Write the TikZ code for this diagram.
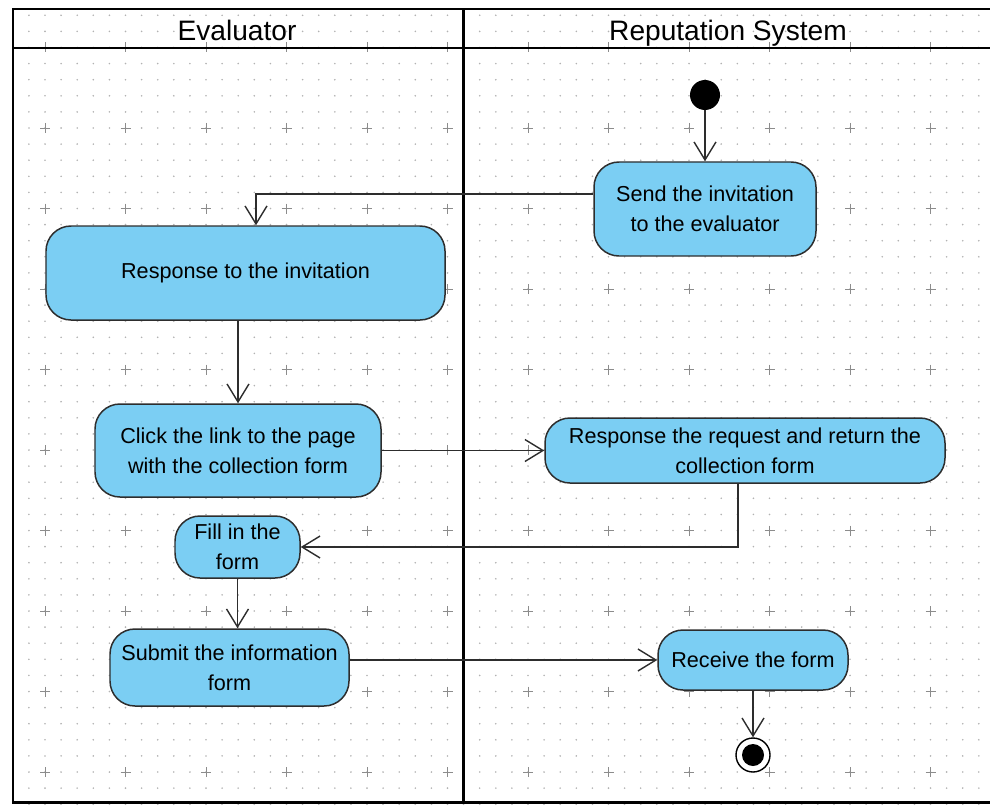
\documentclass[tikz,border=0pt]{standalone}
\usepackage{fontspec}
\setmainfont{Liberation Sans}
\usetikzlibrary{arrows.meta}
\definecolor{actfill}{RGB}{123,206,243}
\definecolor{actline}{RGB}{45,45,45}
\tikzset{action/.style={
    % The shape:
    rectangle,rounded corners=5mm,
    % The size:
    inner sep=0pt,
    % The border:
    line width=0.85pt,
    draw=actline,
    % The filling:
    fill=actfill,
    % Font
    align=center,
    font=\fontsize{12.3}{17}\selectfont
    },
    flow/.style={
    line width=0.8pt,
    draw=actline,
    -{Straight Barb[length=3.6mm,width=4.4mm,line width=0.8pt]},
    },
    lane/.style={
    line width=1.7pt,
    },
    lanetitle/.style={
    anchor=base,
    font=\fontsize{16}{18}\selectfont,
    },
}

\begin{document}
\begin{tikzpicture}[x=0.2mm,y=-0.2mm]
    \useasboundingbox (0,0) rectangle (990,805);
    % grid
    \foreach \i in {0,...,60}
      \foreach \j in {0,...,49}
        \fill[black!30] (28.9+16.1*\i,15.3+16.1*\j) circle (0.9);
    \foreach \i in {0,...,12}
      \foreach \j in {0,...,9}
        \draw[black!45,line width=0.5pt] (45+80.5*\i,47.5+80.5*\j) +(-5,0) -- +(5,0) +(0,-5) -- +(0,5);

    % swimlanes
    \draw[lane] (1000,9) -- (13,9) -- (13,802) -- (1000,802);
    \draw[lane] (13,48) -- (1000,48);
    \draw[lane] (463,9) -- (463,802);
    \node (evaluator) [lanetitle] at (237,40.5) {Evaluator};
    \node (repsystem) [lanetitle] at (728,40.5) {Reputation System};

    % actions
    \node (start)   [circle,fill=black,minimum size=6mm,inner sep=0pt] at (705,95) {};
    \node (send)    [action,minimum width=44.4mm,minimum height=18.8mm] at (705,209) {Send the invitation\\to the evaluator};
    \node (respond) [action,minimum width=79.8mm,minimum height=18.8mm] at (245.5,273) {Response to the invitation};
    \node (click)   [action,minimum width=57.2mm,minimum height=18.6mm] at (238,450.5) {Click the link to the page\\with the collection form};
    \node (reply)   [action,minimum width=80mm,minimum height=13mm] at (745,450.5) {Response the request and return the\\collection form};
    \node (fill)    [action,minimum width=25mm,minimum height=12.4mm] at (237.5,547) {Fill in the\\form};
    \node (submit)  [action,minimum width=47.8mm,minimum height=15.4mm] at (229.5,667.5) {Submit the information\\form};
    \node (receive) [action,minimum width=38mm,minimum height=12mm] at (753,660) {Receive the form};
    \node (end)     [circle,draw=black,line width=0.8pt,fill=white,minimum size=6.8mm,inner sep=0pt] at (753,755) {};
    \fill (end) circle (11);

    % flows
    \draw[flow] (start) -- (send);
    \draw[flow] ([yshift=3mm]send.west) -| ([xshift=2.1mm]respond.north);
    \draw[flow] (respond.south -| click.north) -- (click.north);
    \draw[flow] (click.east) -- (reply.west);
    \draw[flow] ([xshift=-1.4mm]reply.south) |- (fill.east);
    \draw[flow] (fill.south) -- (fill.south |- submit.north);
    \draw[flow] (submit.east |- receive.west) -- (receive.west);
    \draw[flow] (receive) -- (end);
\end{tikzpicture}
\end{document}
